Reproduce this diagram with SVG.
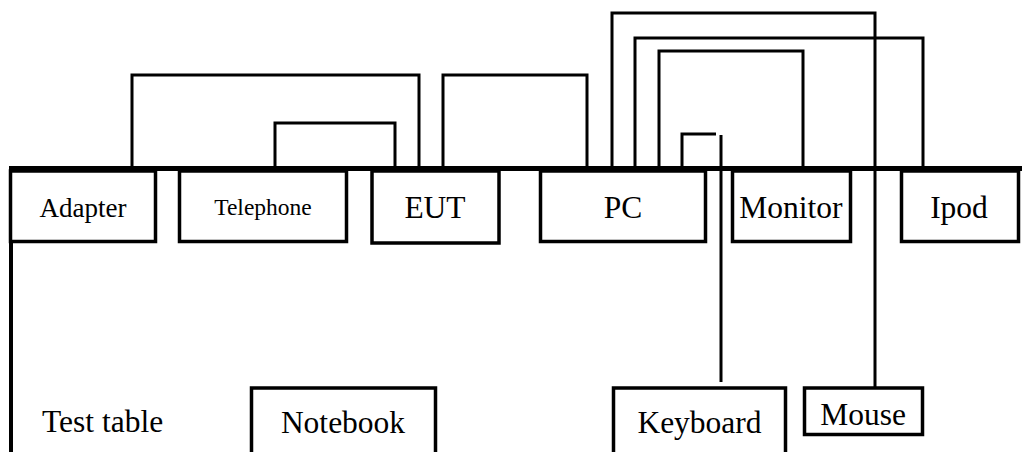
<svg xmlns="http://www.w3.org/2000/svg" width="1027" height="452" viewBox="0 0 1027 452">
<style>
.box{fill:#fff;stroke:#000;stroke-width:3.5}
.wire{fill:none;stroke:#000;stroke-width:3}
.lbl{font-family:"Liberation Serif","Times New Roman",serif;font-size:31.5px;fill:#000;text-anchor:middle}
</style>
<rect width="1027" height="452" fill="#fff"/>
<g id="connectors">
<path class="wire" d="M132 168V75H419V168"/>
<path class="wire" d="M275 168V123H395V168"/>
<path class="wire" d="M443 168V75H587V168"/>
<path class="wire" d="M612 168V13H875V387"/>
<path class="wire" d="M635 168V38H923V168"/>
<path class="wire" d="M659 168V51H803V168"/>
<path class="wire" d="M682 168V134H716"/>
<path class="wire" d="M721 135V382"/>
</g>
<g id="table">
<line x1="9" y1="168.5" x2="1022" y2="168.5" stroke="#000" stroke-width="5"/>
<line x1="11" y1="168" x2="11" y2="452" stroke="#000" stroke-width="4"/>
<text class="lbl" x="42" y="432" style="text-anchor:start">Test table</text>
</g>
<g id="adapter"><rect class="box" x="10.5" y="171" width="145" height="70.5"/><text class="lbl" x="83" y="217" style="font-size:27px">Adapter</text></g>
<g id="telephone"><rect class="box" x="179.5" y="171" width="167" height="70.5"/><text class="lbl" x="263" y="215" style="font-size:23.5px">Telephone</text></g>
<g id="eut"><rect class="box" x="372" y="171" width="127" height="72"/><text class="lbl" x="435" y="218">EUT</text></g>
<g id="pc"><rect class="box" x="540.5" y="171" width="165" height="70.5"/><text class="lbl" x="623" y="218">PC</text></g>
<g id="monitor"><rect class="box" x="732.5" y="171" width="118" height="70.5"/><text class="lbl" x="791" y="218">Monitor</text></g>
<g id="ipod"><rect class="box" x="901.5" y="171" width="117" height="70.5"/><text class="lbl" x="959" y="218">Ipod</text></g>
<g id="notebook"><rect class="box" x="251.5" y="388" width="184" height="80"/><text class="lbl" x="343" y="433">Notebook</text></g>
<g id="keyboard"><rect class="box" x="613.5" y="388" width="172" height="80"/><text class="lbl" x="699.5" y="433">Keyboard</text></g>
<g id="mouse"><rect class="box" x="804.5" y="388" width="118" height="46.5"/><text class="lbl" x="863" y="425">Mouse</text></g>
</svg>
